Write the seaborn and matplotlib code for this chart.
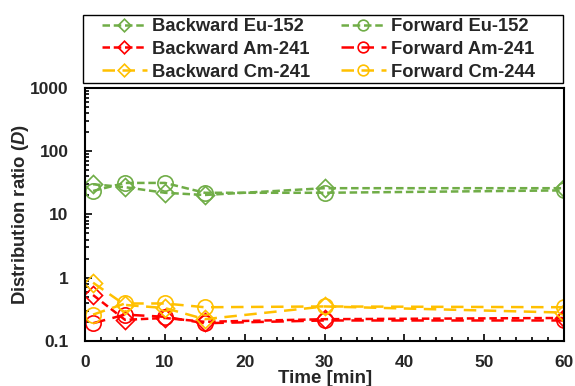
import matplotlib
matplotlib.use("Agg")
import matplotlib.pyplot as plt
import seaborn as sns
import pandas as pd
from matplotlib.patches import Rectangle
from matplotlib.ticker import MultipleLocator, LogLocator, NullFormatter, FixedLocator, FixedFormatter

time = [1, 5, 10, 15, 30, 60]
backward_eu152 = [30, 27, 22, 20.3, 26, 26]
forward_eu152 = [23.5, 31.5, 31.5, 22, 22, 24]
backward_am241 = [0.53, 0.215, 0.23, 0.20, 0.22, 0.23]
forward_am241 = [0.19, 0.26, 0.24, 0.19, 0.21, 0.21]
backward_cm241 = [0.83, 0.37, 0.33, 0.22, 0.35, 0.28]
forward_cm244 = [0.26, 0.39, 0.39, 0.34, 0.35, 0.34]

labels = ["Backward Eu-152", "Forward Eu-152", "Backward Am-241",
          "Forward Am-241", "Backward Cm-241", "Forward Cm-244"]
series = [backward_eu152, forward_eu152, backward_am241,
          forward_am241, backward_cm241, forward_cm244]

sns.set_theme(style="ticks")
plt.rcParams['font.family'] = ['Liberation Sans', 'DejaVu Sans']
plt.rcParams['font.weight'] = 'bold'
plt.rcParams['mathtext.fontset'] = 'custom'
plt.rcParams['mathtext.it'] = 'Liberation Sans:italic:bold'
plt.rcParams['mathtext.rm'] = 'Liberation Sans:bold'

green = "#70AD47"
red = "#FF0000"
yellow = "#FFC000"
colors = [green, green, red, red, yellow, yellow]
markers = ["D", "o", "D", "o", "D", "o"]
dash_list = [(3, 1.5), (3, 1.5), (3, 1.5), (5, 3), (5, 3), (5, 3)]

fig = plt.figure(figsize=(5.75, 3.86), dpi=100)
ax = fig.add_axes([0.148, 0.117, 0.833, 0.655])

for lab, vals, c, m, d in zip(labels, series, colors, markers, dash_list):
    df = pd.DataFrame({"t": time, "D": vals})
    sns.lineplot(data=df, x="t", y="D", ax=ax, color=c, marker=m,
                 markerfacecolor="none", markeredgecolor=c,
                 markeredgewidth=1.2, linewidth=1.8, label=lab,
                 legend=False)
    ln = ax.lines[-1]
    ln.set_dashes(d)
    if m == "D":
        ln.set_marker((4, 0, 0))
        ln.set_markersize(13)
    else:
        ln.set_marker("o")
        ln.set_markersize(11)

ax.set_yscale("log")
ax.set_ylim(0.1, 1000)
ax.set_xlim(0, 60)
ax.xaxis.set_major_locator(MultipleLocator(10))
ax.xaxis.set_minor_locator(MultipleLocator(2))
ax.yaxis.set_major_locator(FixedLocator([0.1, 1, 10, 100, 1000]))
ax.yaxis.set_major_formatter(FixedFormatter(["0.1", "1", "10", "100", "1000"]))
ax.yaxis.set_minor_locator(LogLocator(base=10, subs=range(2, 10)))
ax.yaxis.set_minor_formatter(NullFormatter())
ax.tick_params(which="both", direction="in", color="black", width=1.2,
               labelsize=12.5, top=False, right=False)
ax.tick_params(which="major", length=5)
ax.tick_params(which="minor", length=3)
ax.tick_params(axis="x", pad=10)
ax.tick_params(axis="y", pad=12)
for s in ax.spines.values():
    s.set_visible(True)
    s.set_color("black")
    s.set_linewidth(1.5)
for t in ax.get_xticklabels() + ax.get_yticklabels():
    t.set_fontweight("bold")

ax.set_xlabel("Time [min]", fontsize=13.5, fontweight="bold", labelpad=0)
ax.set_ylabel("Distribution ratio ($D$)", fontsize=13.3, fontweight="bold", labelpad=-1)

order = [0, 2, 4, 1, 3, 5]
handles = [ax.lines[i] for i in order]
leg_labels = [labels[i] for i in order]
leg = fig.legend(handles, leg_labels, loc="upper left", ncol=2,
                 bbox_to_anchor=(102 / 575, 1 - 18 / 386),
                 frameon=False, prop={"weight": "bold", "size": 13.2},
                 markerscale=0.7, handlelength=2.45, handletextpad=0.3,
                 labelspacing=0.32, borderpad=0, borderaxespad=0,
                 columnspacing=1.65)
fig.add_artist(Rectangle((83 / 575, 1 - 83 / 386), 480 / 575, 68 / 386,
                         transform=fig.transFigure, fill=False,
                         edgecolor="black", linewidth=1.0))

fig.savefig("out.png", dpi=100)
